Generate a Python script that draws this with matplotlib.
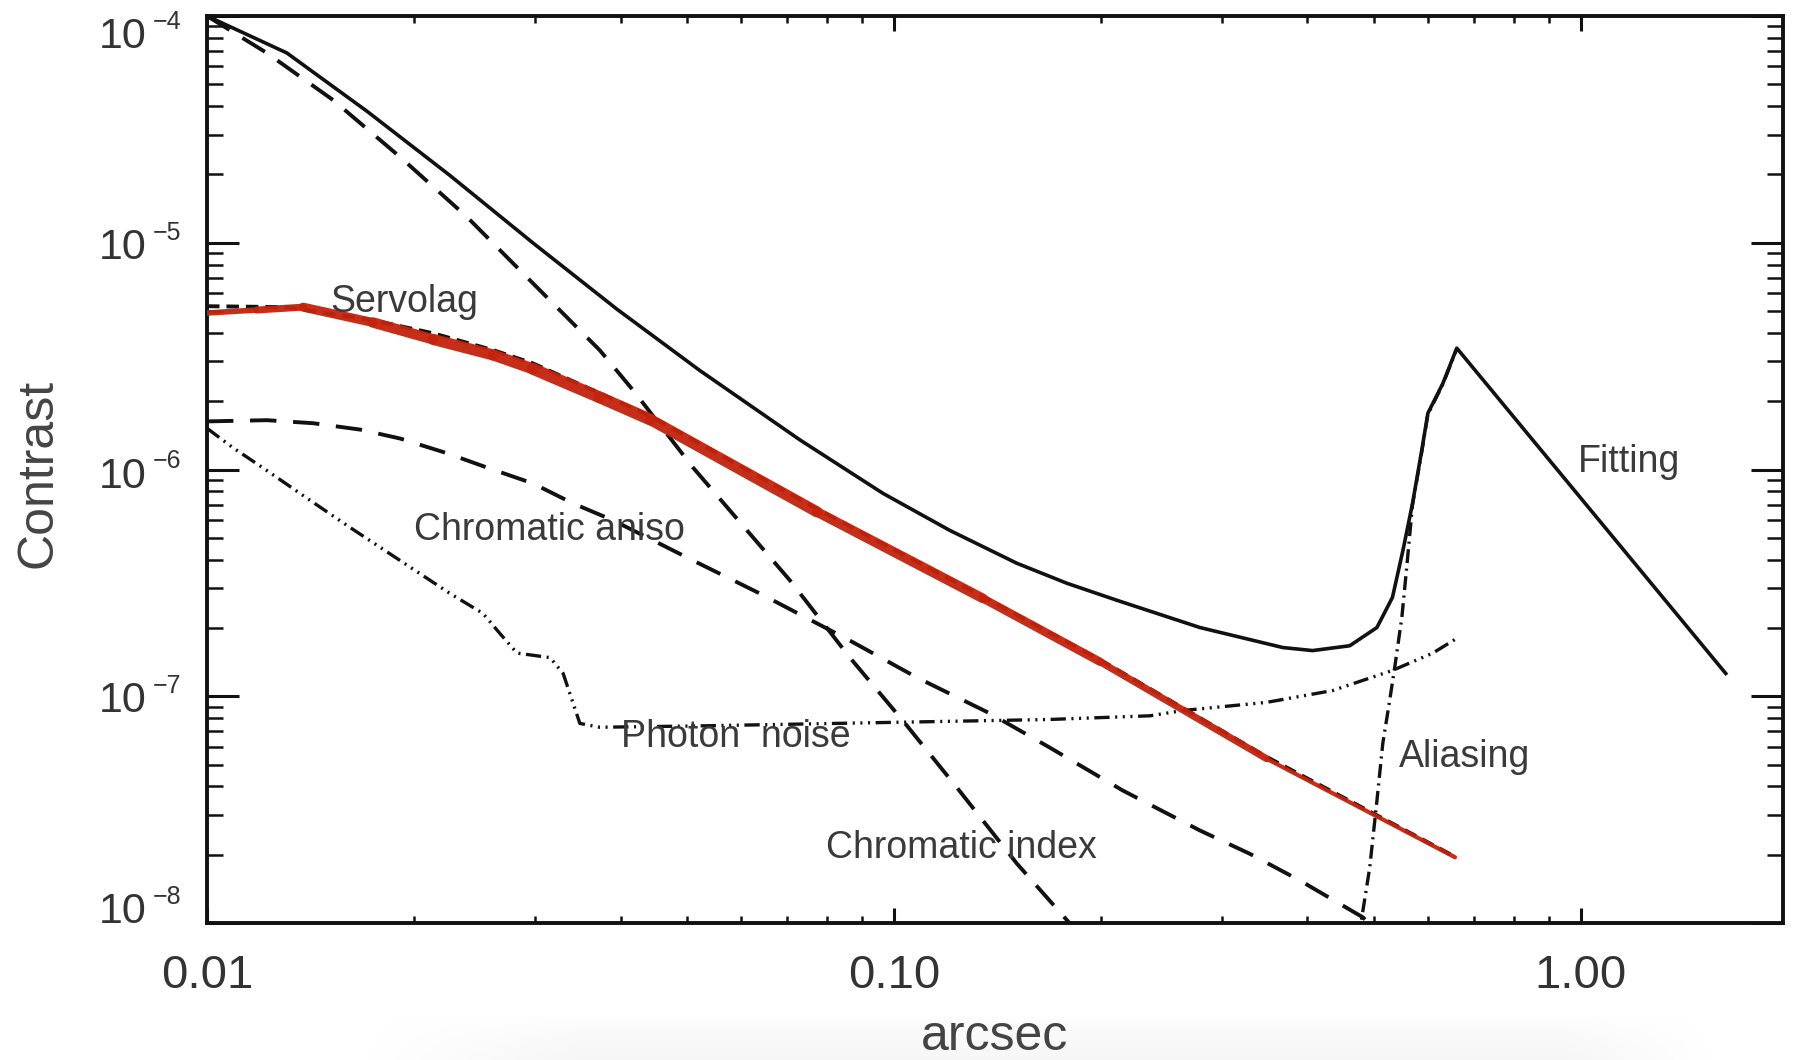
import numpy as np
import matplotlib
matplotlib.use('Agg')
import matplotlib.pyplot as plt
from matplotlib.collections import LineCollection
from matplotlib.ticker import NullFormatter
from matplotlib.transforms import offset_copy

plt.rcParams['lines.scale_dashes'] = False
plt.rcParams['font.family'] = ['Liberation Sans', 'DejaVu Sans']

# total contrast (solid), incl. fitting branch beyond the control radius
total_x = [0.0100, 0.01307, 0.0171, 0.02258, 0.0298, 0.0395, 0.0522, 0.0730, 0.0964,
           0.1206, 0.151, 0.1786, 0.2112, 0.2789, 0.3683, 0.407, 0.461, 0.505, 0.532,
           0.551, 0.569, 0.587, 0.599, 0.630, 0.660, 1.626]
total_y = [1.0e-4, 6.87e-5, 3.80e-5, 1.98e-5, 1.0e-5, 5.1e-6, 2.73e-6, 1.35e-6, 7.85e-7,
           5.39e-7, 3.86e-7, 3.15e-7, 2.65e-7, 2.01e-7, 1.64e-7, 1.59e-7, 1.67e-7, 2.01e-7, 2.73e-7,
           4.40e-7, 7.09e-7, 1.22e-6, 1.77e-6, 2.40e-6, 3.43e-6, 1.26e-7]

# chromatic index (long dashes, steep)
chrom_index_x = [0.0100, 0.01222, 0.01526, 0.0191, 0.0239, 0.0298, 0.0373, 0.0417, 0.0510,
                 0.0706, 0.0863, 0.103, 0.1235, 0.151, 0.1786, 0.195]
chrom_index_y = [1.0e-4, 6.87e-5, 4.26e-5, 2.39e-5, 1.30e-5, 6.64e-6, 3.36e-6, 2.24e-6, 1.02e-6,
                 3.24e-7, 1.48e-7, 7.82e-8, 3.96e-8, 1.83e-8, 1.03e-8, 7.6e-9]

# servolag (short dashes)
servo_x = [0.0100, 0.01307, 0.01744, 0.02133, 0.0261, 0.0298, 0.0373, 0.0442, 0.0773,
           0.1348, 0.1995, 0.349, 0.656]
servo_y = [5.25e-6, 5.2e-6, 4.55e-6, 3.99e-6, 3.36e-6, 2.94e-6, 2.17e-6, 1.72e-6, 6.7e-7,
           2.75e-7, 1.45e-7, 5.4e-8, 1.96e-8]

# red marker stroke drawn over servolag
red_x = [0.0100, 0.0118, 0.0138, 0.01744, 0.02133, 0.0261, 0.0298, 0.0373, 0.0442, 0.0773,
         0.1348, 0.1995, 0.349, 0.656]
red_y = [4.9e-6, 5.05e-6, 5.2e-6, 4.45e-6, 3.75e-6, 3.2e-6, 2.78e-6, 2.08e-6, 1.66e-6, 6.5e-7,
         2.7e-7, 1.42e-7, 5.3e-8, 1.95e-8]

# chromatic anisoplanatism (long dashes)
aniso_x = [0.0100, 0.01222, 0.01427, 0.0167, 0.0191, 0.02235, 0.0258, 0.0298, 0.0341, 0.039,
           0.0446, 0.051, 0.0638, 0.0863, 0.108, 0.138, 0.1686, 0.2154, 0.2789, 0.3297, 0.390,
           0.4816, 0.50]
aniso_y = [1.63e-6, 1.65e-6, 1.60e-6, 1.50e-6, 1.37e-6, 1.18e-6, 1.01e-6, 8.69e-7, 7.09e-7, 5.97e-7,
           4.87e-7, 3.97e-7, 2.84e-7, 1.76e-7, 1.21e-7, 8.4e-8, 5.94e-8, 3.84e-8, 2.56e-8, 2.02e-8, 1.54e-8,
           1.06e-8, 9.5e-9]

# photon noise (dash dot dot dot)
photon_x = [0.0100, 0.0109, 0.01222, 0.01413, 0.01614, 0.0191, 0.02258, 0.02522, 0.0267, 0.02827,
            0.0316, 0.033, 0.0349, 0.0373, 0.0522, 0.1348, 0.1686, 0.236, 0.2634, 0.349, 0.4355,
            0.532, 0.609, 0.660]
photon_y = [1.52e-6, 1.25e-6, 9.9e-7, 7.31e-7, 5.56e-7, 3.97e-7, 2.84e-7, 2.32e-7, 1.89e-7, 1.55e-7,
            1.48e-7, 1.26e-7, 7.59e-8, 7.3e-8, 7.4e-8, 7.8e-8, 7.9e-8, 8.2e-8, 8.65e-8, 9.4e-8, 1.06e-7,
            1.30e-7, 1.55e-7, 1.80e-7]

# aliasing (dash dot)
alias_x = [0.475, 0.4784, 0.493, 0.505, 0.515, 0.527, 0.536, 0.549, 0.558, 0.569, 0.587, 0.599,
           0.630, 0.660]
alias_y = [8.5e-9, 9.9e-9, 1.76e-8, 3.47e-8, 6.19e-8, 9.58e-8, 1.34e-7, 2.23e-7, 3.70e-7, 7.0e-7,
           1.2e-6, 1.75e-6, 2.38e-6, 3.40e-6]

x_ticks = [0.01, 0.1, 1.0]
x_tick_labels = ['0.01', '0.10', '1.00']
y_ticks = [1e-4, 1e-5, 1e-6, 1e-7, 1e-8]
y_exps = ['\u22124', '\u22125', '\u22126', '\u22127', '\u22128']

labels = ['Servolag', 'Chromatic aniso', 'Photon  noise', 'Chromatic index', 'Aliasing', 'Fitting']
label_x = [0.0151, 0.0200, 0.0400, 0.0796, 0.543, 0.99]
label_y = [5.5e-6, 5.4e-7, 6.6e-8, 2.15e-8, 5.4e-8, 1.08e-6]

fig = plt.figure(figsize=(18.04, 10.60), dpi=100)
ax = fig.add_axes([207 / 1804, 1 - 923 / 1060, 1576 / 1804, 907 / 1060])
ax.set_xscale('log')
ax.set_yscale('log')
ax.set_xlim(0.01, 1.97)
ax.set_ylim(1e-8, 1e-4)

ink = '#111111'
ax.plot(total_x, total_y, color=ink, lw=2.6, solid_joinstyle='round', zorder=5)
ax.plot(chrom_index_x, chrom_index_y, color=ink, lw=2.8, linestyle=(0, (19, 11)), zorder=4)
ax.plot(aniso_x, aniso_y, color=ink, lw=2.8, linestyle=(0, (19, 12)), zorder=4)
ax.plot(servo_x, servo_y, color=ink, lw=2.8, linestyle=(0, (9, 5)), zorder=4)
ax.plot(photon_x, photon_y, color=ink, lw=2.4,
        linestyle=(0, (11, 4, 1.5, 4, 1.5, 4, 1.5, 4)), zorder=4)
ax.plot(alias_x, alias_y, color=ink, lw=2.4, linestyle=(0, (10, 4, 1.5, 4)), zorder=4)

# marker stroke, thick in the middle and tapering at the tail
pts = np.column_stack([red_x, red_y])
segs = np.stack([pts[:-1], pts[1:]], axis=1)
widths = [4, 5, 6.5, 7.5, 8, 8, 8.5, 8.5, 8, 7, 6, 5, 3]
lc = LineCollection(segs, colors='#c4230c', linewidths=widths, capstyle='round',
                    joinstyle='round', alpha=0.95, zorder=6)
ax.add_collection(lc)

for txt, lx, ly in zip(labels, label_x, label_y):
    ax.text(lx, ly, txt, fontsize=27, color='#3a3a3a', ha='left', va='center', zorder=7)

# axes frame and ticks
for sp in ax.spines.values():
    sp.set_linewidth(2.8)
    sp.set_color(ink)
ax.tick_params(which='both', direction='in', top=True, right=True, color=ink)
ax.tick_params(axis='y', which='major', length=23, width=2.2, labelleft=False)
ax.tick_params(axis='y', which='minor', length=11.5, width=1.8)
ax.tick_params(axis='x', which='major', length=11, width=2.2, pad=22,
               labelsize=34, labelcolor='#333333')
ax.tick_params(axis='x', which='minor', length=5, width=1.8)
ax.set_xticks(x_ticks, labels=x_tick_labels)
ax.xaxis.set_minor_formatter(NullFormatter())
ax.set_yticks(y_ticks)
ax.yaxis.set_minor_formatter(NullFormatter())

# decade labels on the left: "10" with a small raised exponent
base_shift = [21, 5, 7, 5, -11]
ytr = ax.get_yaxis_transform()
for val, ex, sh in zip(y_ticks, y_exps, base_shift):
    t1 = offset_copy(ytr, fig=fig, x=-60, y=-sh, units='dots')
    ax.text(0, val, '10', transform=t1, ha='right', va='center', fontsize=31,
            color='#333333', clip_on=False)
    t2 = offset_copy(ytr, fig=fig, x=-54, y=-sh + 15, units='dots')
    ax.text(0, val, ex, transform=t2, ha='left', va='center', fontsize=18,
            color='#333333', clip_on=False)

fig.text(995 / 1804, 1 - 1037 / 1060, 'arcsec', ha='center', va='center',
         fontsize=36, color='#444444')
fig.text(39 / 1804, 1 - 473 / 1060, 'Contrast', ha='center', va='center',
         rotation=90, fontsize=36, color='#444444')

# faint shadow along the bottom edge
shade = fig.add_axes([0, 0, 1, 45 / 1060], zorder=-1)
gx = np.linspace(0, 1, 400)
gy = np.linspace(0, 1, 40)
GX, GY = np.meshgrid(gx, gy)
edge = np.clip((GX - 0.20) / 0.12, 0, 1) * np.clip((0.95 - GX) / 0.08, 0, 1)
band = edge * (1 - GY) ** 0.6
shade.imshow(band, cmap='Greys', vmin=0, vmax=14, aspect='auto', origin='lower',
             extent=[0, 1, 0, 1])
shade.axis('off')

fig.savefig('out.png', dpi=100)
